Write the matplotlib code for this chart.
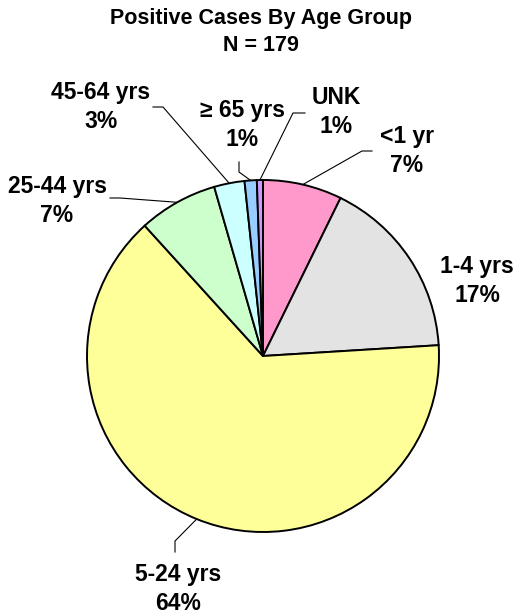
import numpy as np
import matplotlib
matplotlib.use("Agg")
import matplotlib.pyplot as plt

plt.rcParams["font.family"] = ["Liberation Sans", "DejaVu Sans"]

# data
groups = ["<1 yr", "1-4 yrs", "5-24 yrs", "25-44 yrs", "45-64 yrs", "\u2265 65 yrs", "UNK"]
counts = [13, 30, 115, 13, 5, 2, 1]
colors = ["#FF99CC", "#E3E3E3", "#FFFF99", "#CCFFCC", "#CCFFFF", "#99CCFF", "#CC99FF"]
total = sum(counts)
title = f"Positive Cases By Age Group\nN = {total}"

# layout (pixel coords, y measured from top)
W, H = 516, 615
cx, cy, r = 263, 356, 176
label_xy = [(407, 151), (477, 281), (178, 589), (57, 201), (101, 107), (242, 125), (336, 112)]
# leader elbows: (elbow, end) or None
leaders = [((362, 151), (372, 151)), None, ((175, 541), (175, 552)),
           ((120, 198), (110, 198)), ((163, 107), (153, 107)),
           ((239, 172), (239, 162)), ((293, 113), (305, 113))]

fig = plt.figure(figsize=(W / 100, H / 100), dpi=100)
ax = fig.add_axes([0, 0, 1, 1])

wedges, _ = ax.pie(counts, colors=colors, startangle=90, counterclock=False,
                   center=(cx, H - cy), radius=r,
                   wedgeprops=dict(edgecolor="black", linewidth=1.4))

for w, name, c, (lx, ly), ld in zip(wedges, groups, counts, label_xy, leaders):
    pct = round(100 * c / total)
    ax.text(lx, H - ly, f"{name}\n{pct}%", ha="center", va="center",
            fontsize=16.5, fontweight="bold", linespacing=1.3)
    if ld is not None:
        mid = np.deg2rad((w.theta1 + w.theta2) / 2)
        sx, sy = cx + r * np.cos(mid), (H - cy) + r * np.sin(mid)
        (ex, ey), (tx, ty) = ld
        ax.plot([sx, ex, tx], [sy, H - ey, H - ty], color="black", lw=0.8)

ax.text(W / 2 + 3, H - 32, title, ha="center", va="center", fontsize=15.5,
        fontweight="bold", linespacing=1.4)

ax.set_xlim(0, W)
ax.set_ylim(0, H)
ax.set_aspect("equal")
ax.axis("off")
fig.savefig("out.png", dpi=100)
